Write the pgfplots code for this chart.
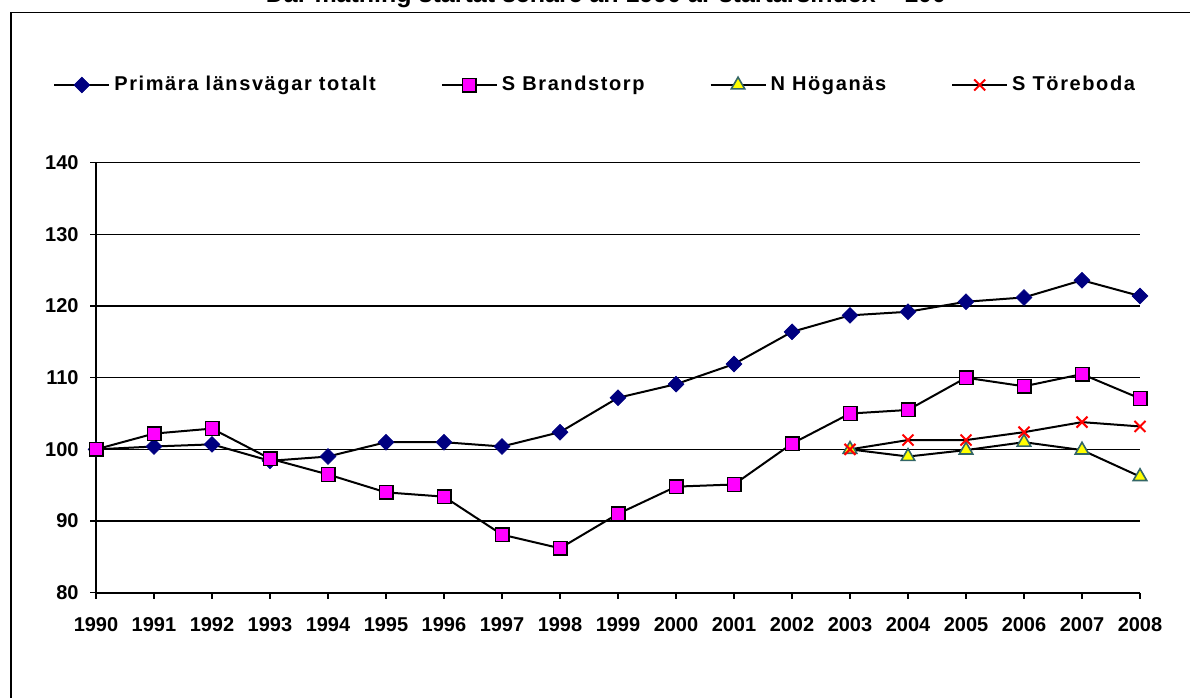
\documentclass[border=0pt]{standalone}
\usepackage{fontspec}
\setmainfont{Liberation Sans}
\usepackage{pgfplots}
\pgfplotsset{compat=1.18}
\definecolor{mnavy}{RGB}{0,0,128}
\definecolor{mmag}{RGB}{255,0,255}
\definecolor{myel}{RGB}{255,255,0}
\definecolor{mteal}{RGB}{51,102,102}
\definecolor{mred}{RGB}{255,0,0}
\begin{document}
\begin{tikzpicture}
\useasboundingbox (0,0) rectangle (595pt,348.5pt);
\draw[line width=0.6pt] (5.5pt,-20pt) -- (5.5pt,342.35pt) -- (620pt,342.35pt);
\node[anchor=base, inner sep=0pt, font=\fontsize{12.5}{14}\selectfont\bfseries] at (303pt,347.15pt) {Där mätning startat senare än 1990 är startårsindex = 100};
\begin{axis}[
  at={(48pt,52.15pt)}, anchor=south west,
  width=522pt, height=215pt, scale only axis,
  xmin=1990, xmax=2008, ymin=80, ymax=140,
  xtick={1990,1991,...,2008}, ytick={80,90,...,140},
  ymajorgrids, grid style={black, line width=0.75pt},
  axis x line*=bottom, axis y line*=left,
  axis line style={black, line width=0.85pt},
  tick style={black, line width=0.7pt},
  tick align=outside, major tick length=3pt,
  /pgf/number format/assume math mode=true,
  /pgf/number format/1000 sep={},
  tick label style={font=\fontsize{10}{12}\selectfont\bfseries},
  x tick label style={anchor=north, inner sep=0pt, yshift=-9pt},
  y tick label style={anchor=east, inner sep=0pt, xshift=-5.5pt},
  legend columns=4,
  legend style={at={(axis description cs:-0.0412,1.1807)}, anchor=west, draw=none, fill=none, inner sep=0pt,
    font=\fontsize{10}{12}\selectfont\bfseries\addfontfeature{LetterSpace=8},
    cells={anchor=west},
    /tikz/every even column/.append style={column sep=30.5pt}},
  legend image code/.code={\draw[mark repeat=2,mark phase=2] plot coordinates {(0pt,0pt) (13.75pt,0pt) (27.5pt,0pt)};},
]
\addplot[black, line width=1pt, mark=square*, mark size=2.8pt, mark options={fill=mnavy, draw=mnavy, rotate=45, line width=0.3pt}] coordinates {
(1990,100) (1991,100.4) (1992,100.7) (1993,98.4) (1994,99.0) (1995,101.0) (1996,101.0) (1997,100.4) (1998,102.4) (1999,107.2) (2000,109.1) (2001,111.9) (2002,116.4) (2003,118.7) (2004,119.2) (2005,120.6) (2006,121.2) (2007,123.6) (2008,121.4)};
\addlegendentry{Primära länsvägar totalt}
\addplot[black, line width=1pt, mark=square*, mark size=3.4pt, mark options={fill=mmag, draw=black, line width=0.7pt}] coordinates {
(1990,100) (1991,102.2) (1992,102.9) (1993,98.7) (1994,96.5) (1995,94.0) (1996,93.4) (1997,88.1) (1998,86.2) (1999,91.0) (2000,94.8) (2001,95.1) (2002,100.8) (2003,105.0) (2004,105.5) (2005,110.0) (2006,108.8) (2007,110.5) (2008,107.1)};
\addlegendentry{S Brandstorp}
\addplot[black, line width=1pt, mark=triangle*, mark size=3.9pt, mark options={fill=myel, draw=mteal, line width=0.8pt}] coordinates {
(2003,100) (2004,99.0) (2005,99.9) (2006,101.0) (2007,99.9) (2008,96.2)};
\addlegendentry{N Höganäs}
\addplot[black, line width=1pt, mark=x, mark size=3.9pt, mark options={draw=mred, line width=1pt}] coordinates {
(2003,100) (2004,101.3) (2005,101.3) (2006,102.4) (2007,103.8) (2008,103.2)};
\addlegendentry{S Töreboda}
\end{axis}
\end{tikzpicture}
\end{document}
